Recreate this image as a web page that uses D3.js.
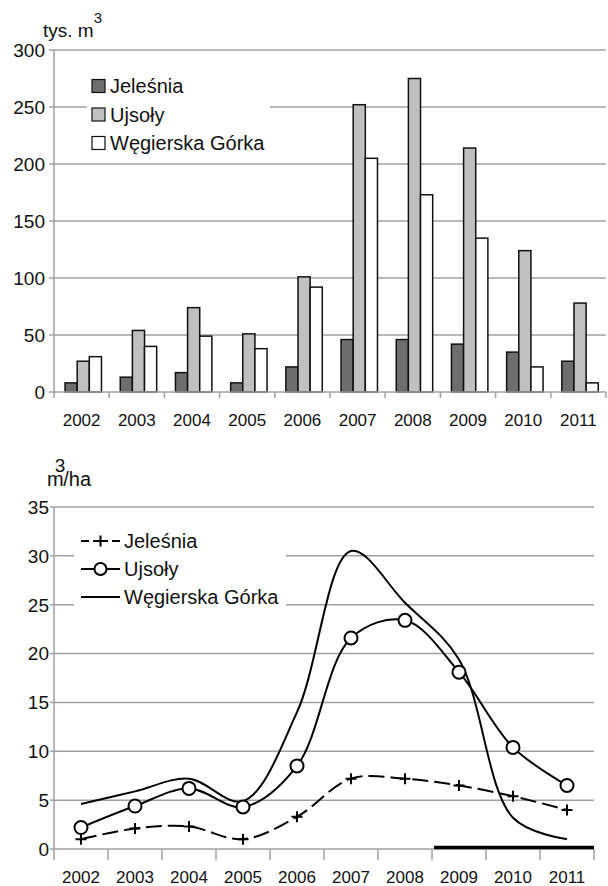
<!DOCTYPE html>
<meta charset="utf-8">
<style>
    body {margin: 0; background: #fff;}
    svg {font-family: 'Liberation Sans', Arial, sans-serif; fill: #111;}
</style>
<body>
<svg width="608" height="886"></svg>
<script src="https://d3js.org/d3.v7.min.js"></script>
<script>

// data
var years = ["2002", "2003", "2004", "2005", "2006", "2007", "2008", "2009", "2010", "2011"];
var names = ["Jeleśnia", "Ujsoły", "Węgierska Górka"];

// top chart, tys. m3
var jelesniaVol  = [8, 13, 17, 8, 22, 46, 46, 42, 35, 27];
var ujsolyVol    = [27, 54, 74, 51, 101, 252, 275, 214, 124, 78];
var wegierskaVol = [31, 40, 49, 38, 92, 205, 173, 135, 22, 8];
var volTicks = [0, 50, 100, 150, 200, 250, 300];

// bottom chart, m3/ha
var jelesniaHa  = [1.0, 2.1, 2.3, 1.0, 3.3, 7.2, 7.2, 6.5, 5.4, 4.0];
var ujsolyHa    = [2.2, 4.4, 6.2, 4.3, 8.5, 21.6, 23.4, 18.1, 10.4, 6.5];
var wegierskaHa = [4.6, 5.9, 7.2, 4.9, 14.0, 30.5, 25.2, 19.4, 3.2, 1.0];
var haTicks = [0, 5, 10, 15, 20, 25, 30, 35];

// the thick black stretch along the bottom axis (from year .. to year)
var baseStretch = ["2009", "2011"];

var svg = d3.select("svg");
var grid = "#a0a0a0";

// ---------------- top: bars ----------------
var gTop = svg.append("g");
var y1 = d3.scaleLinear().domain([0, 300]).range([392, 50]);
var x1 = d3.scaleBand().domain(years).range([54, 606]);
var bw = x1.bandwidth();
var xs = d3.scaleBand().domain(names).range([bw * 0.2, bw * 0.86]);
var barFill = {"Jeleśnia": "#6e6e6e", "Ujsoły": "#c0c0c0", "Węgierska Górka": "#ffffff"};

gTop.append("g").selectAll("line")
    .data(volTicks.slice(1))
    .enter().append("line")
    .attr("x1", 54).attr("x2", 606)
    .attr("y1", function(d) { return y1(d); })
    .attr("y2", function(d) { return y1(d); })
    .style("stroke", grid).style("stroke-width", "1.5px");

var volRows = [];
years.forEach(function(yr, i) {
  volRows.push({year: yr, name: names[0], v: jelesniaVol[i]});
  volRows.push({year: yr, name: names[1], v: ujsolyVol[i]});
  volRows.push({year: yr, name: names[2], v: wegierskaVol[i]});
});

gTop.append("g").selectAll("rect")
    .data(volRows)
    .enter().append("rect")
    .attr("x", function(d) { return x1(d.year) + xs(d.name); })
    .attr("width", xs.bandwidth())
    .attr("y", function(d) { return y1(d.v); })
    .attr("height", function(d) { return y1(0) - y1(d.v); })
    .style("fill", function(d) { return barFill[d.name]; })
    .style("stroke", "#111").style("stroke-width", "1.5px");

drawAxes(gTop, x1, y1, volTicks, 606, 6, 426, 45, 5);

// legend top
gTop.append("rect").attr("x", 87).attr("y", 66).attr("width", 183).attr("height", 93)
    .style("fill", "#fff");
var lg1 = gTop.append("g").selectAll("g")
    .data(names)
    .enter().append("g")
    .attr("transform", function(d, i) { return "translate(92," + (86 + i * 28.5) + ")"; });
lg1.append("rect")
    .attr("x", 0).attr("y", -6.5).attr("width", 13).attr("height", 13)
    .style("fill", function(d) { return barFill[d]; })
    .style("stroke", "#111").style("stroke-width", "1.2px");
lg1.append("text")
    .attr("x", 18).attr("dy", "0.36em")
    .style("font-size", "20px")
    .text(function(d) { return d; });

var t1 = gTop.append("text").attr("x", 43).attr("y", 37).style("font-size", "19px");
t1.append("tspan").text("tys. m");
t1.append("tspan").attr("dy", -14).style("font-size", "15px").text("3");

// ---------------- bottom: lines ----------------
var gBot = svg.append("g");
var y2 = d3.scaleLinear().domain([0, 35]).range([849, 507]);
var xb = d3.scaleBand().domain(years).range([54, 594]);
var x2 = d3.scalePoint().domain(years).range([54, 594]).padding(0.5);

gBot.append("g").selectAll("line")
    .data(haTicks.slice(1))
    .enter().append("line")
    .attr("x1", 54).attr("x2", 594)
    .attr("y1", function(d) { return y2(d); })
    .attr("y2", function(d) { return y2(d); })
    .style("stroke", grid).style("stroke-width", "1.5px");

drawAxes(gBot, xb, y2, haTicks, 594, 11, 883, 49, 4);

gBot.append("line")
    .attr("x1", xb(baseStretch[0]) + 2)
    .attr("x2", xb(baseStretch[1]) + xb.bandwidth())
    .attr("y1", y2(0) - 1.5).attr("y2", y2(0) - 1.5)
    .style("stroke", "#000").style("stroke-width", "3.5px");

var line = d3.line()
    .x(function(d, i) { return x2(years[i]); })
    .y(function(d) { return y2(d); })
    .curve(d3.curveCatmullRom.alpha(0.5));

gBot.append("path").datum(wegierskaHa).attr("d", line)
    .style("fill", "none").style("stroke", "#000").style("stroke-width", "2px");
gBot.append("path").datum(ujsolyHa).attr("d", line)
    .style("fill", "none").style("stroke", "#000").style("stroke-width", "2px");
gBot.append("path").datum(jelesniaHa).attr("d", line)
    .style("fill", "none").style("stroke", "#000").style("stroke-width", "2px")
    .style("stroke-dasharray", "16,6");

gBot.append("g").selectAll("circle")
    .data(ujsolyHa)
    .enter().append("circle")
    .attr("cx", function(d, i) { return x2(years[i]); })
    .attr("cy", function(d) { return y2(d); })
    .attr("r", 6.5)
    .style("fill", "#fff").style("stroke", "#000").style("stroke-width", "2px");

gBot.append("g").selectAll("path")
    .data(jelesniaHa)
    .enter().append("path")
    .attr("d", "M-5.5,0H5.5M0,-5.5V5.5")
    .attr("transform", function(d, i) { return "translate(" + x2(years[i]) + "," + y2(d) + ")"; })
    .style("fill", "none").style("stroke", "#000").style("stroke-width", "2px");

// legend bottom
gBot.append("rect").attr("x", 74).attr("y", 522).attr("width", 212).attr("height", 89)
    .style("fill", "#fff");
var lg2 = gBot.append("g").selectAll("g")
    .data(names)
    .enter().append("g")
    .attr("transform", function(d, i) { return "translate(81," + (541 + i * 28) + ")"; });
lg2.append("text")
    .attr("x", 43).attr("dy", "0.36em")
    .style("font-size", "20px")
    .text(function(d) { return d; });
lg2.filter(function(d, i) { return i == 0; }).append("path")
    .attr("d", "M0,0H8M12,0H27M31,0H39M19.5,-5.5V5.5")
    .style("fill", "none").style("stroke", "#000").style("stroke-width", "2px");
lg2.filter(function(d, i) { return i == 1; }).append("line")
    .attr("x1", 0).attr("x2", 39)
    .style("stroke", "#000").style("stroke-width", "2px");
lg2.filter(function(d, i) { return i == 1; }).append("circle")
    .attr("cx", 19.5).attr("r", 6)
    .style("fill", "#fff").style("stroke", "#000").style("stroke-width", "2px");
lg2.filter(function(d, i) { return i == 2; }).append("line")
    .attr("x1", 0).attr("x2", 39)
    .style("stroke", "#000").style("stroke-width", "2px");

var t2 = gBot.append("text").attr("x", 47).attr("y", 486).style("font-size", "20px");
t2.append("tspan").text("m");
t2.append("tspan").attr("dx", -9).attr("dy", -14).style("font-size", "19px").text("3");
t2.append("tspan").attr("dx", -2).attr("dy", 14).text("/ha");

// axes drawn by hand: ticks at band edges, labels at band centres
function drawAxes(g, xband, y, ticks, right, tickLen, labelY, labelX, yTick) {
  var x0 = xband.range()[0];
  var y0 = y(0), yTop = y(ticks[ticks.length - 1]);
  g.append("line").attr("x1", x0).attr("x2", right).attr("y1", y0).attr("y2", y0)
      .style("stroke", grid).style("stroke-width", "1.5px");
  g.append("line").attr("x1", x0).attr("x2", x0).attr("y1", yTop).attr("y2", y0)
      .style("stroke", grid).style("stroke-width", "1.5px");
  var edges = xband.domain().map(function(d) { return xband(d); }).concat([right]);
  g.append("g").selectAll("line").data(edges).enter().append("line")
      .attr("x1", function(d) { return d; }).attr("x2", function(d) { return d; })
      .attr("y1", y0).attr("y2", y0 + tickLen)
      .style("stroke", grid).style("stroke-width", "1.5px");
  g.append("g").selectAll("line").data(ticks).enter().append("line")
      .attr("x1", x0 - yTick).attr("x2", x0)
      .attr("y1", function(d) { return y(d); }).attr("y2", function(d) { return y(d); })
      .style("stroke", grid).style("stroke-width", "1.5px");
  g.append("g").selectAll("text").data(ticks).enter().append("text")
      .attr("x", labelX).attr("y", function(d) { return y(d); })
      .attr("dy", "0.36em").attr("text-anchor", "end")
      .style("font-size", "19px")
      .text(function(d) { return d; });
  g.append("g").selectAll("text").data(xband.domain()).enter().append("text")
      .attr("x", function(d) { return xband(d) + xband.bandwidth() / 2; })
      .attr("y", labelY).attr("text-anchor", "middle")
      .style("font-size", "17px")
      .text(function(d) { return d; });
}

</script>
</body>
